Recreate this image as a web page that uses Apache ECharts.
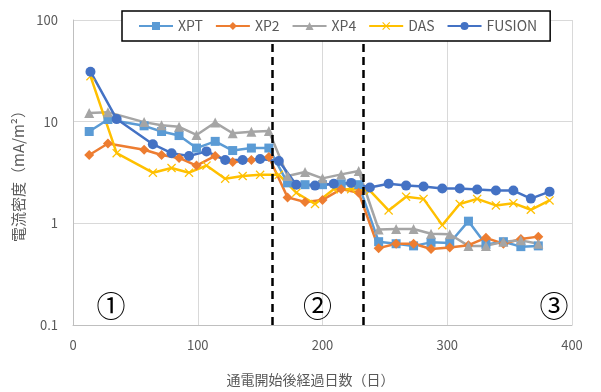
<!DOCTYPE html>
<html>
<head>
<meta charset="utf-8">
<script src="https://cdn.jsdelivr.net/npm/echarts@6/dist/echarts.min.js"></script>
<style>
  html, body { margin: 0; padding: 0; background: #fff; }
  #chart { width: 601px; height: 392px; }
</style>
</head>
<body>
<div id="chart"></div>
<script>
// Measurement days for each group of electrodes
const daysA = [13, 28, 57, 71, 85, 99, 114, 128, 143, 157, 172, 186, 200, 215, 229, 245, 259, 273, 287, 302, 317, 331, 345, 359, 373];
const daysB = [14, 35, 64, 79, 93, 107, 122, 136, 150, 165, 179, 194, 209, 223, 238, 253, 267, 281, 296, 310, 324, 339, 353, 367, 382];

// Current density (mA/m2)
const xpt    = [8.0, 10.5, 9.1, 8.0, 7.3, 5.5, 6.4, 5.2, 5.5, 5.5, 2.5, 2.4, 2.4, 2.45, 2.4, 0.66, 0.63, 0.6, 0.65, 0.64, 1.05, 0.62, 0.66, 0.59, 0.6];
const xp2    = [4.7, 6.1, 5.3, 4.7, 4.4, 3.7, 4.6, 4.0, 4.2, 4.5, 1.8, 1.62, 1.7, 2.17, 2.0, 0.57, 0.63, 0.63, 0.56, 0.58, 0.61, 0.72, 0.63, 0.7, 0.74];
const xp4    = [12.2, 12.4, 9.9, 9.2, 8.9, 7.4, 9.8, 7.7, 7.95, 8.1, 2.92, 3.2, 2.77, 3.03, 3.27, 0.87, 0.88, 0.88, 0.79, 0.78, 0.6, 0.6, 0.66, 0.68, 0.63];
const das    = [28, 4.9, 3.15, 3.5, 3.15, 3.7, 2.75, 2.92, 3.0, 3.0, 2.0, 1.55, 2.17, 2.17, 2.1, 1.34, 1.83, 1.74, 0.96, 1.55, 1.74, 1.5, 1.58, 1.36, 1.68];
const fusion = [31, 10.6, 6.0, 4.9, 4.6, 5.1, 4.2, 4.2, 4.3, 4.1, 2.4, 2.35, 2.45, 2.5, 2.25, 2.45, 2.35, 2.3, 2.2, 2.2, 2.15, 2.1, 2.1, 1.75, 2.05];

// Phase boundaries (days) and phase labels
const phaseBounds = [160, 233];
const phaseLabels = ['①', '②', '③'];
const phaseLabelPos = [[30.5, 0.155], [196, 0.155], [385.5, 0.155]];

const FONT = '"Noto Sans CJK JP", "Noto Sans", sans-serif';
const TEXT = '#595959';

const pair = (xs, ys) => xs.map((x, i) => [x, ys[i]]);
const crossPath = 'path://M0,1 L1,0 L5,4 L9,0 L10,1 L6,5 L10,9 L9,10 L5,6 L1,10 L0,9 L4,5 Z';

function lineSeries(name, color, days, values, symbol, size) {
  return {
    name: name,
    type: 'line',
    data: pair(days, values),
    symbol: symbol,
    symbolSize: size,
    showAllSymbol: true,
    lineStyle: { color: color, width: 2.5 },
    itemStyle: { color: color, borderColor: color, borderWidth: 0 },
    emphasis: { disabled: true },
    animation: false
  };
}

const series = [
  lineSeries('XPT', '#5B9BD5', daysA, xpt, 'rect', 9),
  lineSeries('XP2', '#ED7D31', daysA, xp2, 'diamond', 10),
  lineSeries('XP4', '#A5A5A5', daysA, xp4, 'triangle', 10),
  lineSeries('DAS', '#FFC000', daysB, das, crossPath, 9),
  lineSeries('FUSION', '#4472C4', daysB, fusion, 'circle', 10)
];

series[0].markLine = {
  silent: true,
  symbol: 'none',
  label: { show: false },
  lineStyle: { color: '#000', width: 2.5, type: [8, 5] },
  data: phaseBounds.map(d => ({ xAxis: d })),
  animation: false
};

const chart = echarts.init(document.getElementById('chart'), null, { renderer: 'canvas' });

chart.setOption({
  animation: false,
  backgroundColor: '#fff',
  textStyle: { fontFamily: FONT },
  grid: { left: 73, right: 29, top: 20, bottom: 62 },
  legend: {
    top: 11,
    left: 122,
    padding: [8, 13, 8, 16],
    itemGap: 12,
    itemWidth: 34,
    itemHeight: 10,
    borderColor: '#000',
    borderWidth: 1.5,
    backgroundColor: '#fff',
    textStyle: { color: TEXT, fontSize: 14, fontFamily: FONT },
    data: ['XPT', 'XP2', 'XP4', 'DAS', 'FUSION'],
    z: 10
  },
  xAxis: {
    type: 'value',
    min: 0,
    max: 400,
    interval: 100,
    name: '通電開始後経過日数（日）',
    nameLocation: 'middle',
    nameGap: 48,
    nameTextStyle: { color: TEXT, fontSize: 14, fontFamily: FONT, padding: [0, 24, 0, 0] },
    axisLine: { show: true, lineStyle: { color: '#bfbfbf', width: 1 } },
    axisTick: { show: false },
    axisLabel: { color: TEXT, fontSize: 13, margin: 14 },
    splitLine: { show: true, lineStyle: { color: '#d9d9d9', width: 1 } }
  },
  yAxis: {
    type: 'log',
    logBase: 10,
    min: 0.1,
    max: 100,
    name: '電流密度（mA/m²）',
    nameLocation: 'middle',
    nameGap: 42,
    nameRotate: 90,
    nameTextStyle: { color: TEXT, fontSize: 15, fontFamily: FONT },
    axisLine: { show: true, lineStyle: { color: '#bfbfbf', width: 1 } },
    axisTick: { show: false },
    axisLabel: { color: TEXT, fontSize: 13, margin: 15 },
    splitLine: { show: true, lineStyle: { color: '#d9d9d9', width: 1 } }
  },
  series: series
});

// Phase labels placed at data coordinates
chart.setOption({
  graphic: phaseLabels.map((t, i) => {
    const p = chart.convertToPixel({ xAxisIndex: 0, yAxisIndex: 0 }, phaseLabelPos[i]);
    return {
      type: 'text',
      x: p[0],
      y: p[1],
      z: 20,
      style: {
        text: t,
        fill: '#000',
        font: '29px "Noto Sans CJK JP", sans-serif',
        align: 'center',
        verticalAlign: 'middle'
      }
    };
  })
});
</script>
</body>
</html>
